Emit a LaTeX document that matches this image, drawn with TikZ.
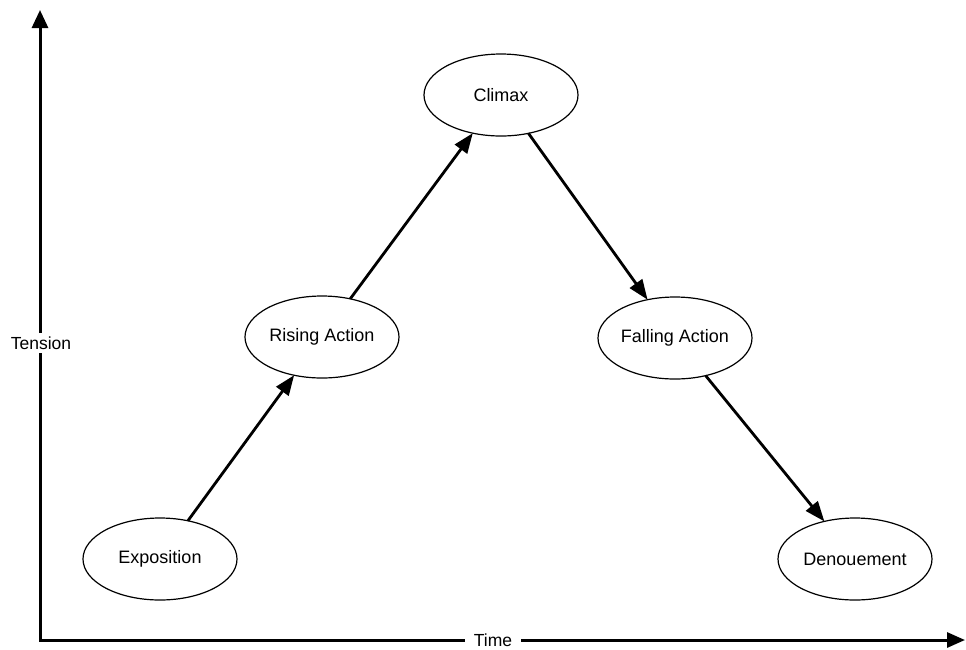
\documentclass[tikz,border=0pt]{standalone}
\usepackage{fontspec}
\setmainfont{Liberation Sans}
\usetikzlibrary{arrows.meta,shapes.geometric}
\tikzset{
  stage/.style={ellipse, draw, line width=1.2pt, minimum width=154pt,
    minimum height=82pt, inner sep=0pt, outer sep=0pt,
    font=\fontsize{18}{21}\selectfont},
  flow/.style={line width=2.8pt, -{Triangle[length=20pt,width=15pt]}},
  axis/.style={line width=3pt,
    {Triangle[length=18pt,width=16pt]}-{Triangle[length=18pt,width=15pt]}},
  axislabel/.style={fill=white, inner xsep=9pt, inner ysep=4pt,
    font=\fontsize{17.5}{21}\selectfont}
}
\begin{document}
\begin{tikzpicture}[x=1pt,y=-1pt]
\useasboundingbox (0,0) rectangle (966,649);

% axes
\coordinate (ytop) at (40,10);
\coordinate (origin) at (40,640);
\coordinate (xend) at (965,640);
\draw[axis] (ytop) -- (origin) -- (xend);
\node[axislabel] (tension) at (41,343) {Tension};
\node[axislabel] (time) at (493,640) {Time};

% stages of the plot
\node[stage] (expo) at (160,559) {Exposition};
\node[stage] (rise) at (322,337) {Rising Action};
\node[stage] (climax) at (501,95) {Climax};
\node[stage] (fall) at (675,338) {Falling Action};
\node[stage] (denoue) at (855,559) {Denouement};

% connectors
\draw[flow] (expo) -- (rise);
\draw[flow] (rise) -- (climax);
\draw[flow] (climax) -- (fall);
\draw[flow] (fall) -- (denoue);
\end{tikzpicture}
\end{document}
